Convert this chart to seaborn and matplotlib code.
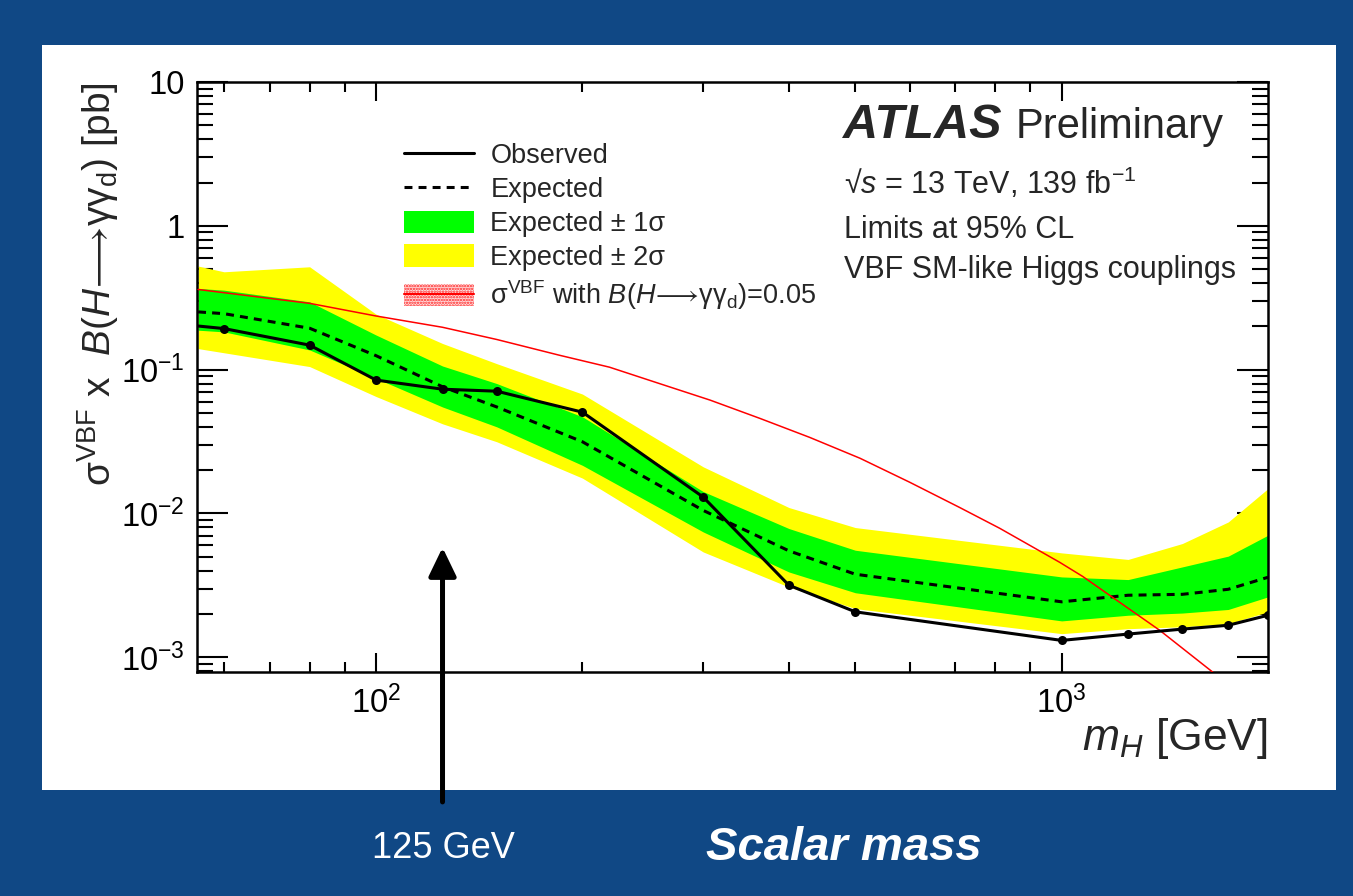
import matplotlib
matplotlib.use("Agg")
import matplotlib.pyplot as plt
from matplotlib.patches import Rectangle, Patch
from matplotlib.lines import Line2D
from matplotlib.ticker import FixedLocator, NullFormatter
import seaborn as sns

# Scalar mass points [GeV]
mass = [55, 60, 80, 100, 125, 150, 200, 300, 400, 500, 1000, 1250, 1500, 1750, 2000]

# 95% CL limits on sigma x B [pb]
observed = [0.201, 0.193, 0.148, 0.0846, 0.0731, 0.0708, 0.0506, 0.0130, 0.00317,
            0.00207, 0.00131, 0.00145, 0.00157, 0.00167, 0.00196]
expected = [0.252, 0.245, 0.194, 0.125, 0.076, 0.055, 0.0315, 0.0105, 0.0055,
            0.00378, 0.00243, 0.0027, 0.00274, 0.00297, 0.0036]
one_sigma_up = [0.367, 0.357, 0.296, 0.174, 0.106, 0.080, 0.047, 0.0142, 0.00786,
                0.00555, 0.00362, 0.00347, 0.00425, 0.00505, 0.00706]
one_sigma_down = [0.188, 0.183, 0.137, 0.087, 0.055, 0.040, 0.0216, 0.00744, 0.00392,
                  0.00281, 0.00179, 0.00196, 0.00203, 0.00215, 0.00263]
two_sigma_up = [0.525, 0.479, 0.519, 0.243, 0.152, 0.110, 0.0676, 0.0211, 0.0110,
                0.00798, 0.00532, 0.00479, 0.00618, 0.00873, 0.0149]
two_sigma_down = [0.140, 0.131, 0.105, 0.065, 0.042, 0.0315, 0.0176, 0.0054, 0.00308,
                  0.00218, 0.00146, 0.00158, 0.00163, 0.00171, 0.00207]

# VBF cross section times B = 0.05 [pb]
theory_mass = [55, 80, 100, 125, 150, 185, 219, 259, 307, 363, 429, 508, 600, 710,
               812, 993, 1073, 1390, 1660, 1800]
theory_xsec = [0.361, 0.289, 0.236, 0.197, 0.162, 0.126, 0.104, 0.080, 0.0614, 0.0458,
               0.0338, 0.0242, 0.0165, 0.0110, 0.00789, 0.00458, 0.00365, 0.00154,
               0.00079, 0.00056]

y_ticks = [1e-3, 1e-2, 1e-1, 1, 10]
y_tick_labels = [r"$10^{-3}$", r"$10^{-2}$", r"$10^{-1}$", "1", "10"]
x_ticks = [100, 1000]
x_tick_labels = [r"$10^{2}$", r"$10^{3}$"]

higgs_mass = 125

sns.set_style("ticks")
plt.rcParams["font.family"] = ["Liberation Sans", "DejaVu Sans"]
plt.rcParams["mathtext.fontset"] = "custom"
plt.rcParams["mathtext.rm"] = "Liberation Sans"
plt.rcParams["mathtext.it"] = "Liberation Sans:italic"
plt.rcParams["mathtext.bf"] = "Liberation Sans:bold"
plt.rcParams["mathtext.fallback"] = "stix"
plt.rcParams["hatch.color"] = "#ff2020"
plt.rcParams["hatch.linewidth"] = 1.2

BLUE = "#104885"
fig = plt.figure(figsize=(13.53, 8.96), dpi=100)
fig.patch.set_facecolor(BLUE)
fig.add_artist(Rectangle((0.031, 0.1183), 0.9565, 0.8315, transform=fig.transFigure,
                         facecolor="white", edgecolor="none", zorder=0))

ax = fig.add_axes([0.1456, 0.25, 0.7916, 0.6585])
ax.set_facecolor("white")
ax.set_xscale("log")
ax.set_yscale("log")

ax.fill_between(mass, two_sigma_down, two_sigma_up, color="#ffff00", lw=0, zorder=1)
ax.fill_between(mass, one_sigma_down, one_sigma_up, color="#00ff00", lw=0, zorder=2)
sns.lineplot(x=mass, y=expected, ax=ax, color="black", lw=2.2,
             linestyle=(0, (2.6, 2.0)), zorder=3, estimator=None)
sns.lineplot(x=theory_mass, y=theory_xsec, ax=ax, color="#ff0000", lw=1.1,
             zorder=4, estimator=None)
sns.lineplot(x=mass, y=observed, ax=ax, color="black", lw=2.2, marker="o",
             markersize=6.5, markeredgewidth=0, zorder=5, estimator=None,
             markevery=list(range(1, len(mass))))

ax.set_xlim(54.8, 2000)
ax.set_ylim(7.9e-4, 10)

# axis ticks drawn inside on all four sides
ax.xaxis.set_major_locator(FixedLocator(x_ticks))
ax.set_xticklabels(x_tick_labels)
ax.xaxis.set_minor_locator(FixedLocator([60, 70, 80, 90, 200, 300, 400, 500, 600, 700, 800, 900]))
ax.xaxis.set_minor_formatter(NullFormatter())
ax.yaxis.set_major_locator(FixedLocator(y_ticks))
ax.set_yticklabels(y_tick_labels)
ax.yaxis.set_minor_locator(FixedLocator([m * 10.0 ** e for e in range(-4, 1) for m in range(2, 10)]))
ax.yaxis.set_minor_formatter(NullFormatter())
ax.tick_params(axis="both", which="both", direction="in", top=True, right=True,
               width=1.5, colors="black", labelsize=23.5)
ax.tick_params(axis="x", which="major", length=14, pad=10)
ax.tick_params(axis="x", which="minor", length=7.5)
ax.tick_params(axis="y", which="major", length=22, pad=9)
ax.tick_params(axis="y", which="minor", length=11.5)
for s in ax.spines.values():
    s.set_linewidth(1.8)
    s.set_color("black")

decay = r"$B$($H\!\longrightarrow\!$γγ$_{\mathrm{d}}$)"

ax.set_xlabel(r"$m_{H}$ [GeV]", fontsize=32, loc="right", va="baseline")
ax.xaxis.set_label_coords(1.0, -0.133)
ax.set_ylabel(r"$\mathrm{\sigma}^{\mathrm{VBF}}$ x  " + decay + " [pb]",
              fontsize=28, loc="top")
ax.yaxis.set_label_coords(-0.071, 1.0)

# legend
handles = [
    Line2D([], [], color="black", lw=2.2),
    Line2D([], [], color="black", lw=2.2, linestyle=(0, (2.6, 2.0))),
    Patch(facecolor="#00ff00", edgecolor="none"),
    Patch(facecolor="#ffff00", edgecolor="none"),
    (Patch(facecolor="#ffe4e4", edgecolor="#ff2020", hatch="......", lw=0),
     Line2D([], [], color="#ff0000", lw=1.5)),
]
labels = [
    "Observed",
    "Expected",
    "Expected ± 1σ",
    "Expected ± 2σ",
    r"σ$^{\mathrm{VBF}}$ with " + decay + "=0.05",
]
ax.legend(handles, labels, loc="upper left", bbox_to_anchor=(0.193, 0.897),
          frameon=False, fontsize=19.5, handlelength=2.6, handleheight=0.9,
          handletextpad=0.6, labelspacing=0.27, borderpad=0, borderaxespad=0)

# experiment labels
ax.text(0.603, 0.905, "ATLAS", transform=ax.transAxes, fontsize=35,
        fontweight="bold", fontstyle="italic", va="baseline", ha="left")
ax.text(0.764, 0.905, "Preliminary", transform=ax.transAxes, fontsize=30,
        va="baseline", ha="left")
ax.text(0.604, 0.810, r"√$s$ = 13 TeV, 139 fb$^{\mathrm{-1}}$", transform=ax.transAxes,
        fontsize=22, va="baseline", ha="left")
ax.text(0.604, 0.736, "Limits at 95% CL", transform=ax.transAxes,
        fontsize=22, va="baseline", ha="left")
ax.text(0.604, 0.668, "VBF SM-like Higgs couplings", transform=ax.transAxes,
        fontsize=22, va="baseline", ha="left")

# Higgs mass marker below the plot
ax.annotate("", xy=(higgs_mass, 0.0058), xycoords="data",
            xytext=(higgs_mass, 0.105), textcoords=("data", "figure fraction"),
            arrowprops=dict(arrowstyle="-|>,head_length=0.87,head_width=0.42",
                            mutation_scale=20, lw=3.6, color="black",
                            shrinkA=0, shrinkB=0),
            annotation_clip=False, zorder=10)
fig.text(443 / 1353, 1 - 848 / 896, "125 GeV", color="white", fontsize=26,
         ha="center", va="center")
fig.text(706 / 1353, 1 - 848 / 896, "Scalar mass", color="white", fontsize=34,
         fontweight="bold", fontstyle="italic", ha="left", va="center")

fig.savefig("out.png", dpi=100, facecolor=BLUE)
